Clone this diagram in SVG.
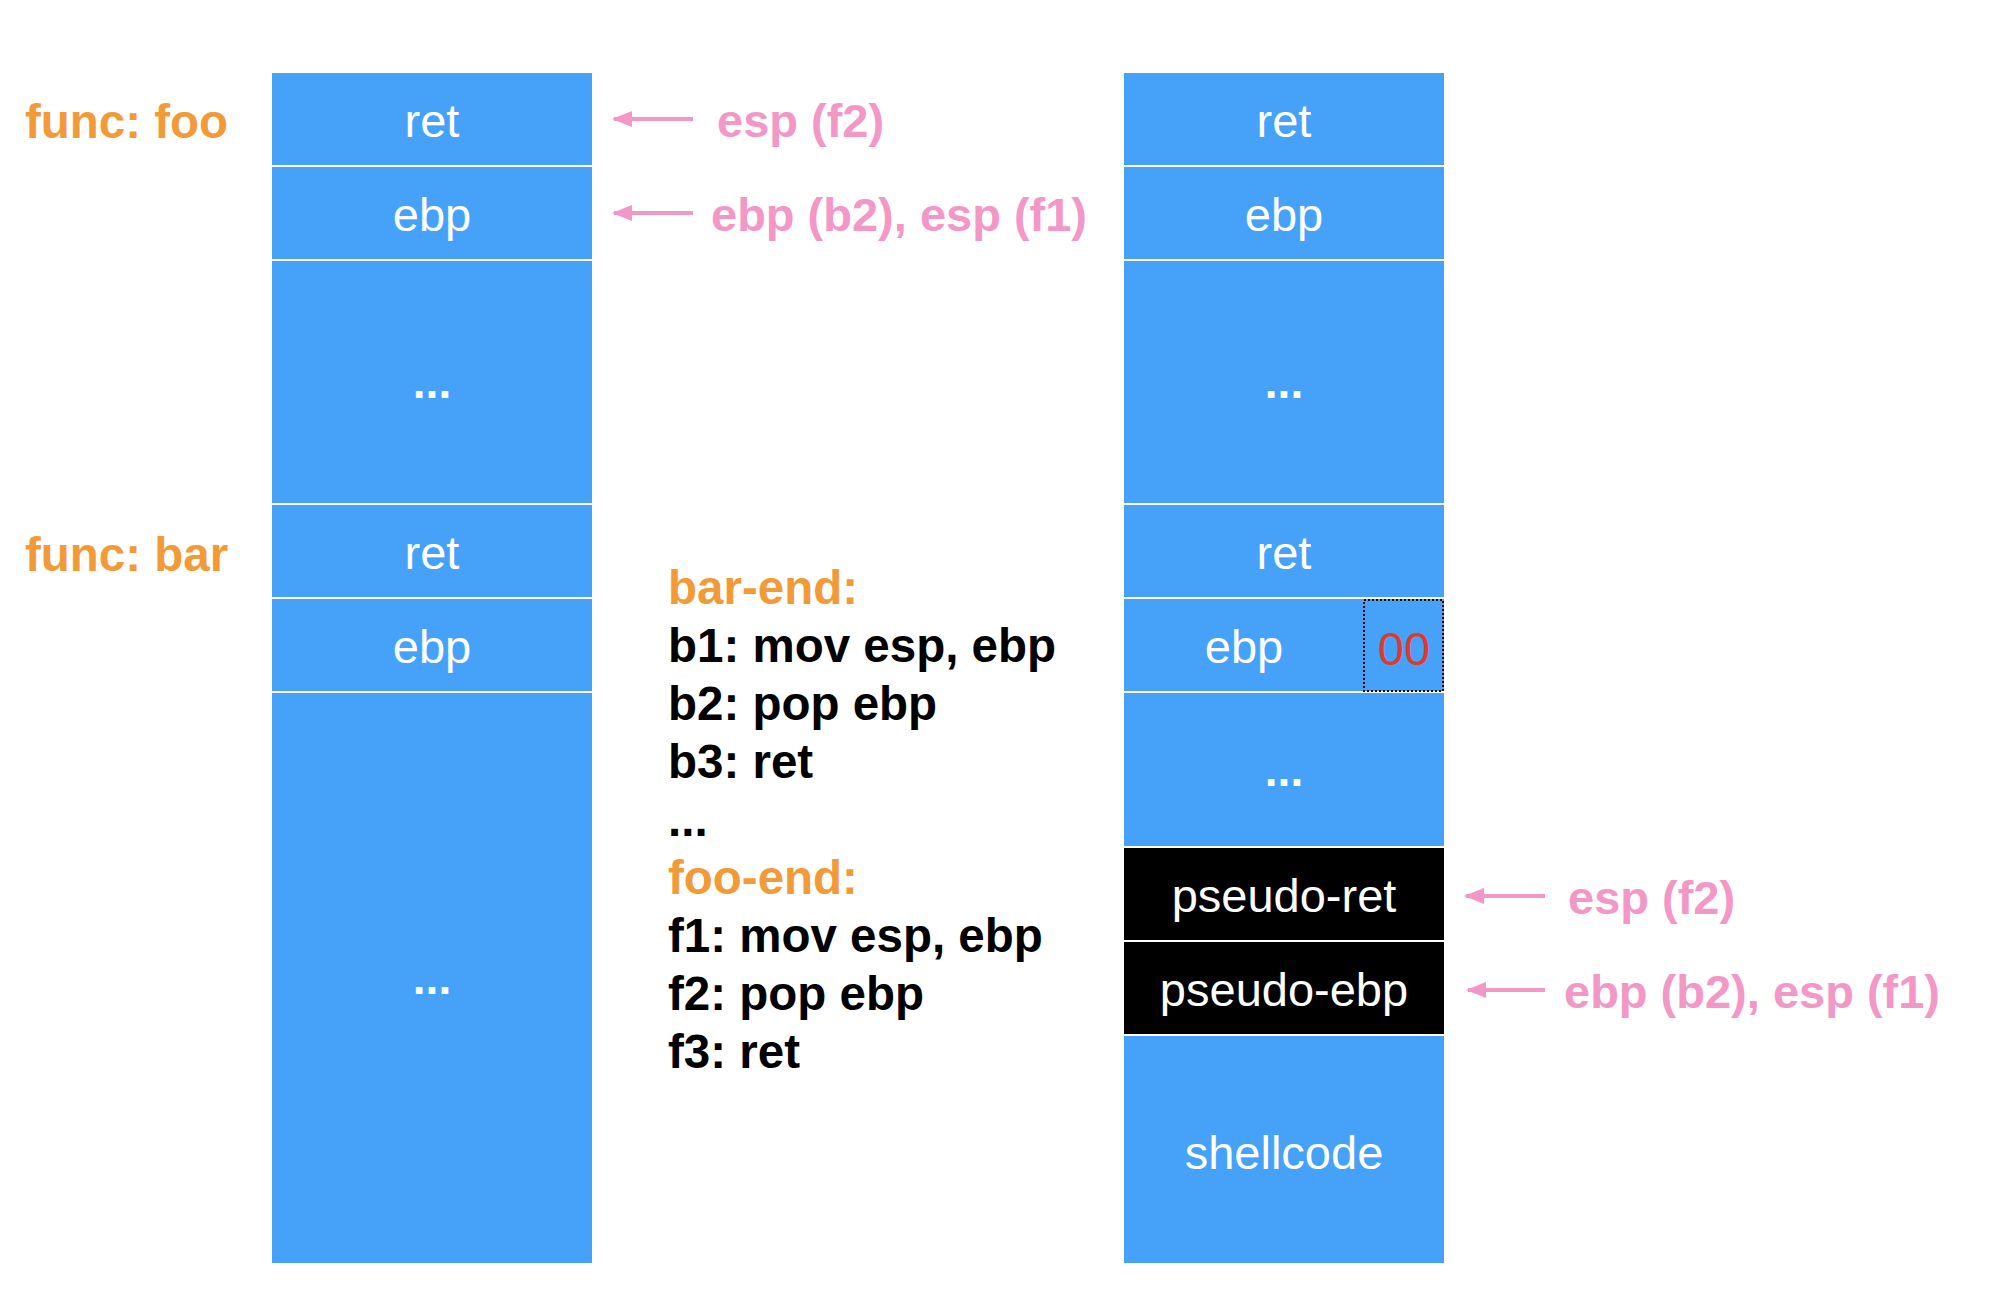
<svg xmlns="http://www.w3.org/2000/svg" width="1994" height="1308" viewBox="0 0 1994 1308">
<style>
.cell{fill:#45A2F8}
.dark{fill:#000}
.ct{font-family:"Liberation Sans",Arial,sans-serif;font-size:47px;fill:#fff;text-anchor:middle}
.dots{font-family:"Liberation Sans",Arial,sans-serif;font-size:46px;font-weight:bold;fill:#fff;text-anchor:middle}
.fn{font-family:"Liberation Sans",Arial,sans-serif;font-size:47.5px;font-weight:bold;fill:#F29A38}
.code{font-family:"Liberation Sans",Arial,sans-serif;font-size:47.5px;font-weight:bold;fill:#000}
.pk{font-family:"Liberation Sans",Arial,sans-serif;font-size:47px;font-weight:bold;fill:#F297C6}
.arr{stroke:#F297C6;stroke-width:4;fill:none}
</style>
<defs>
<marker id="ah" viewBox="0 0 10 10" refX="9" refY="5" markerWidth="5" markerHeight="4" orient="auto" markerUnits="strokeWidth" preserveAspectRatio="none">
<path d="M0,0 L10,5 L0,10 z" fill="#F297C6"/>
</marker>
</defs>
<rect width="1994" height="1308" fill="#fff"/>

<text class="fn" x="25" y="138">func: foo</text>
<text class="fn" x="25" y="571">func: bar</text>

<g id="left-stack">
<g id="l-ret1"><rect class="cell" x="272" y="73" width="320" height="92"/><text class="ct" x="432" y="137">ret</text></g>
<g id="l-ebp1"><rect class="cell" x="272" y="167" width="320" height="92"/><text class="ct" x="432" y="231">ebp</text></g>
<g id="l-dots1"><rect class="cell" x="272" y="261" width="320" height="242"/><text class="dots" x="432" y="398">...</text></g>
<g id="l-ret2"><rect class="cell" x="272" y="505" width="320" height="92"/><text class="ct" x="432" y="569">ret</text></g>
<g id="l-ebp2"><rect class="cell" x="272" y="599" width="320" height="92"/><text class="ct" x="432" y="663">ebp</text></g>
<g id="l-dots2"><rect class="cell" x="272" y="693" width="320" height="570"/><text class="dots" x="432" y="994">...</text></g>
</g>

<g id="right-stack">
<g id="r-ret1"><rect class="cell" x="1124" y="73" width="320" height="92"/><text class="ct" x="1284" y="137">ret</text></g>
<g id="r-ebp1"><rect class="cell" x="1124" y="167" width="320" height="92"/><text class="ct" x="1284" y="231">ebp</text></g>
<g id="r-dots1"><rect class="cell" x="1124" y="261" width="320" height="242"/><text class="dots" x="1284" y="398">...</text></g>
<g id="r-ret2"><rect class="cell" x="1124" y="505" width="320" height="92"/><text class="ct" x="1284" y="569">ret</text></g>
<g id="r-ebp2"><rect class="cell" x="1124" y="599" width="320" height="92"/><text class="ct" x="1244" y="663">ebp</text>
<rect x="1364" y="600" width="79" height="91" fill="none" stroke="#000" stroke-width="2" stroke-dasharray="2,2"/>
<text x="1404" y="665" font-family="Liberation Sans,Arial,sans-serif" font-size="47" fill="#E0392B" text-anchor="middle">00</text></g>
<g id="r-dots2"><rect class="cell" x="1124" y="693" width="320" height="153"/><text class="dots" x="1284" y="786">...</text></g>
<g id="r-pret"><rect class="dark" x="1124" y="848" width="320" height="92"/><text class="ct" x="1284" y="912">pseudo-ret</text></g>
<g id="r-pebp"><rect class="dark" x="1124" y="942" width="320" height="92"/><text class="ct" x="1284" y="1006">pseudo-ebp</text></g>
<g id="r-shell"><rect class="cell" x="1124" y="1036" width="320" height="227"/><text class="ct" x="1284" y="1169">shellcode</text></g>
</g>

<g id="connectors">
<line class="arr" x1="693" y1="119" x2="614" y2="119" marker-end="url(#ah)"/>
<line class="arr" x1="693" y1="213" x2="614" y2="213" marker-end="url(#ah)"/>
<line class="arr" x1="1545" y1="896" x2="1466" y2="896" marker-end="url(#ah)"/>
<line class="arr" x1="1545" y1="990" x2="1468" y2="990" marker-end="url(#ah)"/>
</g>

<g id="labels">
<text class="pk" x="717" y="137">esp (f2)</text>
<text class="pk" x="711" y="231">ebp (b2), esp (f1)</text>
<text class="pk" x="1568" y="914">esp (f2)</text>
<text class="pk" x="1564" y="1008">ebp (b2), esp (f1)</text>
</g>

<g id="code">
<text class="fn" x="668" y="604">bar-end:</text>
<text class="code" x="668" y="662">b1: mov esp, ebp</text>
<text class="code" x="668" y="720">b2: pop ebp</text>
<text class="code" x="668" y="778">b3: ret</text>
<text class="code" x="668" y="836">...</text>
<text class="fn" x="668" y="894">foo-end:</text>
<text class="code" x="668" y="952">f1: mov esp, ebp</text>
<text class="code" x="668" y="1010">f2: pop ebp</text>
<text class="code" x="668" y="1068">f3: ret</text>
</g>
</svg>
